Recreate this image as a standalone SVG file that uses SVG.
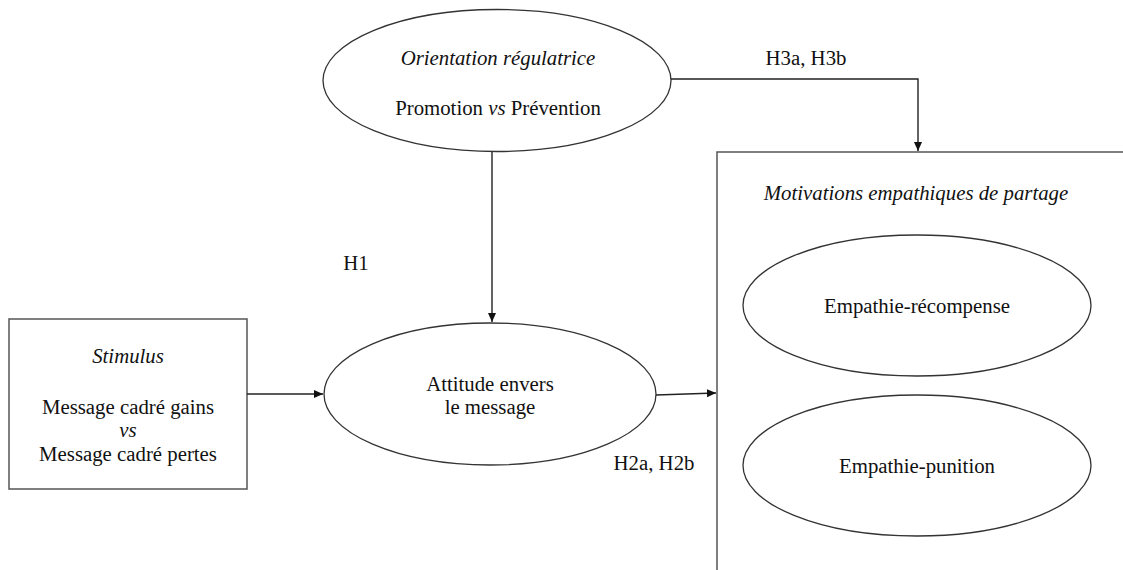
<svg xmlns="http://www.w3.org/2000/svg" width="1123" height="570" viewBox="0 0 1123 570">
<style>
.s{fill:#fff;stroke:#333;stroke-width:1.3}
.b{fill:#fff;stroke:#555;stroke-width:1.5}
.t{font-family:"Liberation Serif","Times New Roman",serif;font-size:20.8px;fill:#111;text-anchor:middle}
.i{font-style:italic}
.c{fill:none;stroke:#222;stroke-width:1.4}
</style>
<defs>
<marker id="ah" markerWidth="10" markerHeight="10" refX="9" refY="5" orient="auto" markerUnits="userSpaceOnUse">
<path d="M0,1 L9,5 L0,9 Z" fill="#111"/>
</marker>
</defs>
<rect width="1123" height="570" fill="#fff"/>
<g id="motivations">
<rect class="b" x="717" y="152" width="420" height="430"/>
<text class="t i" x="916" y="200">Motivations empathiques de partage</text>
</g>
<g id="recompense">
<ellipse class="s" cx="917" cy="305.5" rx="174" ry="70.5"/>
<text class="t" x="917" y="313">Empathie-récompense</text>
</g>
<g id="punition">
<ellipse class="s" cx="917" cy="465.5" rx="174" ry="70.5"/>
<text class="t" x="917" y="473">Empathie-punition</text>
</g>
<g id="orientation">
<ellipse class="s" cx="497" cy="80.5" rx="174" ry="71"/>
<text class="t i" x="498" y="65">Orientation régulatrice</text>
<text class="t" x="498" y="115">Promotion <tspan class="i">vs</tspan> Prévention</text>
</g>
<g id="attitude">
<ellipse class="s" cx="490" cy="394" rx="166" ry="71"/>
<text class="t" x="490" y="391">Attitude envers</text>
<text class="t" x="490" y="414">le message</text>
</g>
<g id="stimulus">
<rect class="b" x="9" y="319" width="238" height="170"/>
<text class="t i" x="128" y="363">Stimulus</text>
<text class="t" x="128" y="414">Message cadré gains</text>
<text class="t i" x="128" y="437">vs</text>
<text class="t" x="128" y="461">Message cadré pertes</text>
</g>
<g id="connectors">
<line class="c" x1="492" y1="152" x2="492" y2="322" marker-end="url(#ah)"/>
<line class="c" x1="247" y1="394" x2="323" y2="394" marker-end="url(#ah)"/>
<line class="c" x1="656" y1="395" x2="716" y2="393" marker-end="url(#ah)"/>
<polyline class="c" points="671,79 918,79 918,151" marker-end="url(#ah)"/>
</g>
<g id="labels">
<text class="t" x="356" y="270">H1</text>
<text class="t" x="654" y="470">H2a, H2b</text>
<text class="t" x="806" y="65">H3a, H3b</text>
</g>
</svg>
